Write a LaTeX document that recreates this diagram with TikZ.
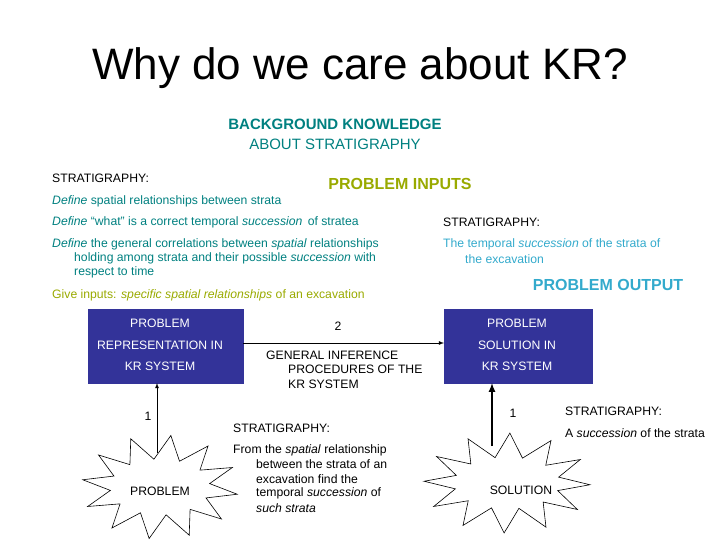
\documentclass[tikz,border=0pt]{standalone}
\usepackage{fontspec}
\setmainfont{Liberation Sans}
\definecolor{teal1}{RGB}{0,128,128}
\definecolor{olive1}{RGB}{153,170,0}
\definecolor{lblue}{RGB}{51,170,204}
\definecolor{navy1}{RGB}{51,51,153}
\begin{document}
\begin{tikzpicture}[x=1pt,y=-1pt,
  lbl/.style={anchor=west,inner sep=0pt,font=\fontsize{12.2}{14}\selectfont},
  ctr/.style={inner sep=0pt,font=\fontsize{12.2}{14}\selectfont},
  kbox/.style={fill=navy1,draw=navy1},
  wt/.style={ctr,text=white},
  arr/.style={-latex,line width=0.8pt},
  burst/.style={draw,fill=white,line width=0.6pt}]
\useasboundingbox (0,0) rectangle (720,540);
\node (title) at (360,68) {\fontsize{44}{50}\selectfont Why do we care about KR?};
\node[ctr,text=teal1,font=\fontsize{15}{17}\selectfont\bfseries] (bk1) at (335,124) {BACKGROUND KNOWLEDGE};
\node[ctr,text=teal1,font=\fontsize{15}{17}\selectfont] (bk2) at (335,144) {ABOUT STRATIGRAPHY};
\node[lbl] (s1) at (52,178) {STRATIGRAPHY:};
\node[ctr,text=olive1,font=\fontsize{16}{18}\selectfont\bfseries] (pin) at (400,184) {PROBLEM INPUTS};
\node[lbl,text=teal1] (d1) at (52,201) {\textit{Define} spatial relationships between strata};
\node[lbl,text=teal1] (d2) at (52,222) {\textit{Define} ``what'' is a correct temporal \textit{succession}\, of stratea};
\node[lbl,text=teal1] (d3) at (52,244) {\textit{Define} the general correlations between \textit{spatial} relationships};
\node[lbl,text=teal1] (d4) at (74,258) {holding among strata and their possible \textit{succession} with};
\node[lbl,text=teal1] (d5) at (74,272) {respect to time};
\node[lbl,text=olive1] (gi) at (52,295) {Give inputs: \textit{specific spatial relationships} of an excavation};
\node[lbl] (s2) at (443,222) {STRATIGRAPHY:};
\node[lbl,text=lblue] (t1) at (443,244) {The temporal \textit{succession} of the strata of};
\node[lbl,text=lblue] (t2) at (465,259) {the excavation};
\node[ctr,text=lblue,font=\fontsize{16}{18}\selectfont\bfseries] (pout) at (608,285) {PROBLEM OUTPUT};
% boxes
\fill[kbox] (88,309) rectangle (243,383);
\fill[kbox] (444,309) rectangle (592,383);
\node[wt] (l1) at (160,323) {PROBLEM};
\node[wt] (l2) at (160,345) {REPRESENTATION IN};
\node[wt] (l3) at (160,366) {KR SYSTEM};
\node[wt] (r1) at (517,323) {PROBLEM};
\node[wt] (r2) at (517,345) {SOLUTION IN};
\node[wt] (r3) at (517,366) {KR SYSTEM};
\coordinate (lbE) at (243,343);
\coordinate (rbW) at (444,343);
\draw[arr] (lbE) -- (rbW);
\node[ctr] (n2) at (338,326) {2};
\node[lbl] (g1) at (266,355) {GENERAL INFERENCE};
\node[lbl] (g2) at (288,369) {PROCEDURES OF THE};
\node[lbl] (g3) at (288,384) {KR SYSTEM};
% bursts
\draw[burst] plot[samples at={0,...,23}] ({160+(64+14*cos(180*\x))*cos(\x*15+8)}, {487+(40+12*cos(180*\x))*sin(\x*15+8)}) -- cycle;
\draw[burst] plot[samples at={0,...,23}] ({507+(68+15*cos(180*\x))*cos(\x*15+2)}, {483+(38+12*cos(180*\x))*sin(\x*15+2)}) -- cycle;
\coordinate (lbt) at (157,453);
\coordinate (lbb) at (157,383);
\draw[arr] (lbt) -- (lbb);
\coordinate (rbt) at (492,446);
\coordinate (rbb) at (492,383);
\draw[arr,line width=2pt] (rbt) -- (rbb);
\node[ctr] (p) at (160,491) {PROBLEM};
\node[ctr] (so) at (521,490) {SOLUTION};
\node[ctr] (o1) at (148,416) {1};
\node[ctr] (o2) at (513,413) {1};
\node[lbl] (s3) at (233,428) {STRATIGRAPHY:};
\node[lbl] (f1) at (233,450) {From the \textit{spatial} relationship};
\node[lbl] (f2) at (256,464) {between the strata of an};
\node[lbl] (f3) at (256,479) {excavation find the};
\node[lbl] (f4) at (256,493) {temporal \textit{succession} of};
\node[lbl] (f5) at (256,508) {\textit{such strata}};
\node[lbl] (s4) at (565,411) {STRATIGRAPHY:};
\node[lbl] (a1) at (565,433) {A \textit{succession} of the strata};
\end{tikzpicture}
\end{document}
